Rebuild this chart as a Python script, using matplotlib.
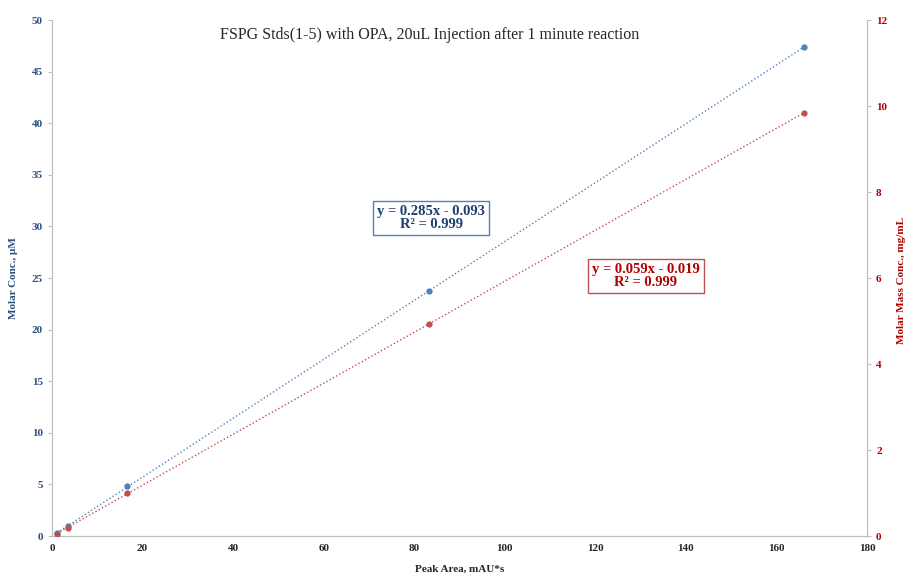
import numpy as np
import matplotlib.pyplot as plt

# peak area vs concentration for the 5 standards
peak_area = [1.1, 3.5, 16.5, 83.2, 166.1]
molar_conc = [0.25, 0.95, 4.85, 23.7, 47.4]      # uM, left axis
mass_conc = [0.05, 0.19, 1.0, 4.93, 9.84]        # mg/mL, right axis

blue_eq = ['y = 0.285x - 0.093', 'R² = 0.999']
red_eq = ['y = 0.059x - 0.019', 'R² = 0.999']

plt.rcParams['font.family'] = ['Liberation Serif', 'DejaVu Serif']

blue = '#4f81bd'
blue_txt = '#1f3d6e'
red = '#c0504d'
red_txt = '#b00000'
grey = '#bfbfbf'

fig = plt.figure(figsize=(9.09, 5.8), dpi=100)
ax = fig.add_axes([52/909, 1 - 536/580, (867-52)/909, (536-20)/580])
ax2 = ax.twinx()

x = np.array(peak_area)

# blue series + trendline
ax.plot(x, molar_conc, 'o', color=blue, markersize=3.5, zorder=3)
p = np.polyfit(x, molar_conc, 1)
xs = np.array([x.min(), x.max()])
ax.plot(xs, np.polyval(p, xs), linestyle=':', color=blue, linewidth=1.0)

# red series + trendline
ax2.plot(x, mass_conc, 'o', color=red, markersize=3.5, zorder=3)
p2 = np.polyfit(x, mass_conc, 1)
ax2.plot(xs, np.polyval(p2, xs), linestyle=':', color=red, linewidth=1.0)

ax.set_xlim(0, 180)
ax.set_ylim(0, 50)
ax2.set_ylim(0, 12)
ax.set_xticks(np.arange(0, 181, 20))
ax.set_yticks(np.arange(0, 51, 5))
ax2.set_yticks(np.arange(0, 13, 2))

for a in (ax, ax2):
    for s in a.spines.values():
        s.set_color(grey)
    a.spines['top'].set_visible(False)

ax.tick_params(axis='x', length=0, pad=6, labelsize=8, colors='#262626')
ax.tick_params(axis='y', length=3, color=grey, labelsize=8, labelcolor='#2f4f80')
ax2.tick_params(axis='y', length=3, color=grey, labelsize=8, labelcolor=red_txt)
for lab in ax.get_xticklabels() + ax.get_yticklabels() + ax2.get_yticklabels():
    lab.set_fontweight('bold')

ax.set_xlabel('Peak Area, mAU*s', fontsize=8, fontweight='bold', color='#262626', labelpad=8)
ax.set_ylabel('Molar Conc., µM', fontsize=8, fontweight='bold', color='#2f4f80', labelpad=10)

# right axis label squeezed against the right edge
fig.text(897/909, 1 - 280/580, 'Molar Mass Conc., mg/mL', rotation=90,
         ha='left', va='center', fontsize=8, fontweight='bold', color=red_txt)

fig.text(430/909, 1 - 35/580, 'FSPG Stds(1-5) with OPA, 20uL Injection after 1 minute reaction',
         ha='center', va='center', fontsize=11.5, color='#262626')

fig.text(431/909, 1 - 218/580, '\n'.join(blue_eq), ha='center', va='center',
         fontsize=10.5, fontweight='bold', color=blue_txt, linespacing=1.0,
         bbox=dict(boxstyle='square,pad=0.3', facecolor='white', edgecolor=blue, linewidth=1))
fig.text(646/909, 1 - 276/580, '\n'.join(red_eq), ha='center', va='center',
         fontsize=10.5, fontweight='bold', color=red_txt, linespacing=1.0,
         bbox=dict(boxstyle='square,pad=0.3', facecolor='white', edgecolor=red, linewidth=1))

fig.savefig('out.png', dpi=100)
